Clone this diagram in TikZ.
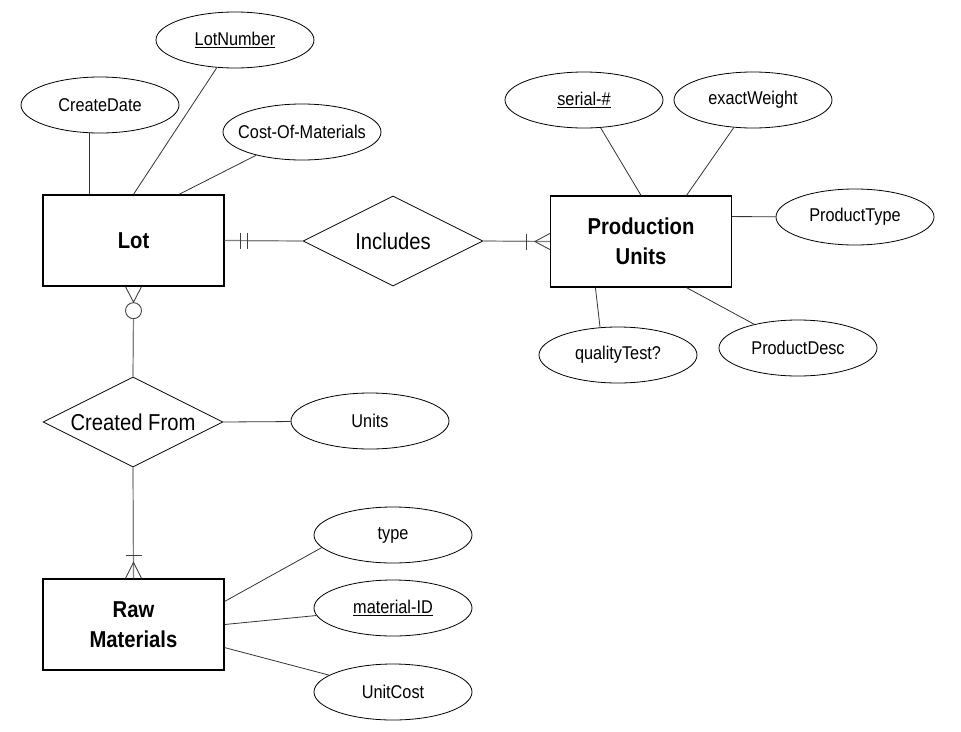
\documentclass[tikz,border=0pt]{standalone}
\usepackage{fontspec}
\setmainfont{Liberation Sans}[FakeStretch=0.88]
\usetikzlibrary{positioning}
\usetikzlibrary{calc}
\usetikzlibrary{shapes.geometric}
\begin{document}
\begin{tikzpicture}[x=1pt,y=-1pt]
				\tikzset{entity/.style = {shape=rectangle, draw, line width=1.3pt, minimum width=181pt, minimum height=91pt, inner sep=0pt, align=center, font=\fontsize{23}{30}\selectfont\bfseries}}
				\tikzset{relation/.style = {shape=diamond, draw, line width=0.8pt, minimum width=180pt, minimum height=90pt, inner sep=0pt, aspect=2, font=\fontsize{23}{27}\selectfont}}
				\tikzset{attribute/.style = {shape=ellipse, draw, line width=0.8pt, minimum width=158pt, minimum height=56pt, inner sep=0pt, font=\fontsize{18.5}{22}\selectfont}}
				\tikzset{link/.style = {draw=black!80, line width=0.8pt}}
				\tikzset{rel/.style = {draw=black!50, line width=1.2pt}}
				\tikzset{foot/.style = {draw=black!75, line width=0.9pt}}
				\useasboundingbox (0,0) rectangle (961,731);
				
				\node[entity] (LOT) at (133.5,240.5) {Lot};
				\node[entity] (PU) at (641,241.5) {Production\\Units};
				\node[entity] (RAW) at (133.5,624.5) {Raw\\Materials};
				\node[relation] (INCLUDES) at (393,241) {Includes};
				\node[relation] (CREATED) at (133,422) {Created From};
				
				\node[attribute] (LOTNUMBER) at (235,40) {\underline{LotNumber}};
				\node[attribute] (CREATEDATE) at (100,105) {CreateDate};
				\node[attribute, inner xsep=-9pt] (COST) at (302,132) {Cost-Of-Materials};
				\node[attribute] (SERIAL) at (584,100) {\underline{serial-\#}};
				\node[attribute] (WEIGHT) at (753,100) {exactWeight};
				\node[attribute] (PTYPE) at (855,217) {ProductType};
				\node[attribute] (PDESC) at (798,348) {ProductDesc};
				\node[attribute] (QTEST) at (618,355) {qualityTest?};
				\node[attribute] (UNITS) at (370,421) {Units};
				\node[attribute] (TYPE) at (393,535) {type};
				\node[attribute] (MATID) at (393,608) {\underline{material-ID}};
				\node[attribute] (UNITCOST) at (393,692) {UnitCost};
				
				\draw[link] (CREATEDATE.-110) -- (CREATEDATE.-110 |- LOT.north);
				\draw[link] (LOTNUMBER) -- (LOT.north);
				\draw[link] (COST) -- ($(LOT.north west)!0.75!(LOT.north east)$);
				\draw[link] (SERIAL) -- (PU.north);
				\draw[link] (WEIGHT) -- ($(PU.north west)!0.75!(PU.north east)$);
				\draw[link] ($(PU.north east)!0.23!(PU.south east)$) -- (PTYPE);
				\draw[link] ($(PU.south west)!0.25!(PU.south east)$) -- (QTEST.123);
				\draw[link] ($(PU.south west)!0.75!(PU.south east)$) -- (PDESC);
				\draw[link] (CREATED.east) -- (UNITS);
				\draw[link] ($(RAW.north east)!0.25!(RAW.south east)$) -- (TYPE.190);
				\draw[link] (RAW.east) -- (MATID);
				\draw[link] ($(RAW.north east)!0.75!(RAW.south east)$) -- (UNITCOST);
				
				\draw[rel] (LOT.east) -- (INCLUDES.west);
				\draw[foot] ($(LOT.east)+(16,-8)$) -- ($(LOT.east)+(16,8)$);
				\draw[foot] ($(LOT.east)+(23,-8)$) -- ($(LOT.east)+(23,8)$);
				
				\draw[rel] (INCLUDES.east) -- (PU.west);
				\draw[foot] ($(PU.west)+(-23,-8)$) -- ($(PU.west)+(-23,8)$);
				\draw[foot] ($(PU.west)+(0,-8)$) -- ($(PU.west)+(-15,0)$) -- ($(PU.west)+(0,8)$);
				
				\node[circle, draw=black!75, line width=0.9pt, minimum size=16pt, inner sep=0pt] (OPT) at ($(LOT.south)+(0,24)$) {};
				\draw[rel] (OPT) -- (CREATED.north);
				\draw[foot] ($(LOT.south)+(-8,0)$) -- (OPT.north) -- ($(LOT.south)+(8,0)$);
				
				\draw[rel] (CREATED.south) -- (RAW.north);
				\draw[foot] ($(RAW.north)+(-8,-23)$) -- ($(RAW.north)+(8,-23)$);
				\draw[foot] ($(RAW.north)+(-8,0)$) -- ($(RAW.north)+(0,-16)$) -- ($(RAW.north)+(8,0)$);
				
				\end{tikzpicture}
\end{document}
